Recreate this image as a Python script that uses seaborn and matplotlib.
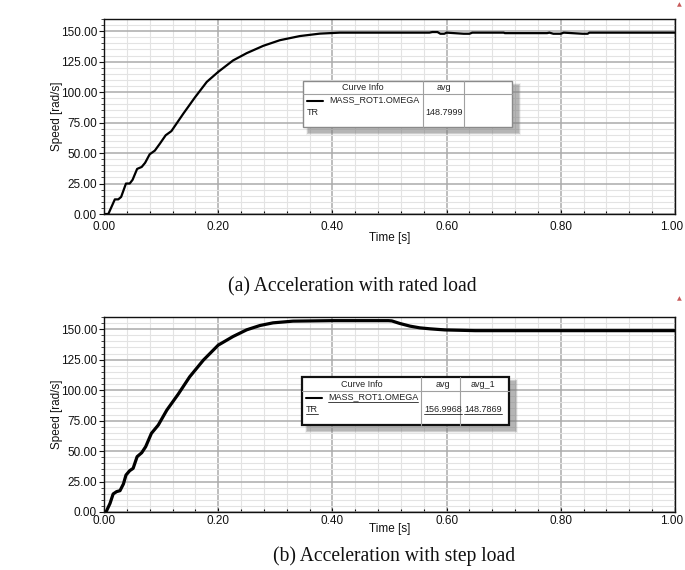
import matplotlib
matplotlib.use("Agg")
import matplotlib.pyplot as plt
import seaborn as sns
import pandas as pd
from matplotlib.patches import Rectangle
from matplotlib.ticker import MultipleLocator, FormatStrFormatter
from matplotlib.transforms import ScaledTranslation

# ---------------- data ----------------
time_a = [0.0, 0.0076, 0.019, 0.025, 0.030, 0.0385, 0.045, 0.050, 0.058, 0.066,
          0.072, 0.080, 0.089, 0.098, 0.108, 0.118, 0.139, 0.159, 0.180, 0.200,
          0.226, 0.250, 0.279, 0.308, 0.343, 0.378, 0.413, 0.570, 0.575, 0.584,
          0.589, 0.596, 0.600, 0.630, 0.640, 0.645, 0.700, 0.702, 0.776, 0.780,
          0.787, 0.800, 0.805, 0.838, 0.847, 0.850, 1.000]
speed_a = [0.0, 0.0, 12.0, 12.0, 14.0, 25.0, 25.0, 28.0, 37.0, 38.6,
           42.0, 49.0, 52.0, 57.8, 64.6, 68.0, 82.4, 95.5, 108.4, 116.6,
           126.0, 132.0, 138.0, 142.6, 146.0, 148.0, 148.8, 148.8, 149.3, 149.3,
           147.9, 147.9, 148.8, 147.9, 147.9, 148.8, 148.8, 148.4, 148.4, 148.8,
           147.9, 147.9, 148.8, 147.9, 147.9, 148.8, 148.8]

time_b = [0.0, 0.0035, 0.0105, 0.016, 0.022, 0.028, 0.034, 0.0385, 0.045, 0.051,
          0.058, 0.066, 0.073, 0.083, 0.095, 0.110, 0.130, 0.150, 0.174, 0.200,
          0.226, 0.250, 0.273, 0.296, 0.331, 0.400, 0.498, 0.504, 0.518, 0.536,
          0.553, 0.571, 0.597, 0.650, 1.000]
speed_b = [0.0, 0.0, 7.0, 14.8, 16.7, 17.5, 23.0, 30.3, 33.9, 35.8,
           45.4, 48.6, 53.6, 64.5, 71.3, 83.6, 96.7, 110.9, 124.6, 136.9,
           144.0, 149.5, 153.0, 155.2, 156.6, 157.0, 157.0, 156.8, 154.7, 152.5,
           151.1, 150.3, 149.4, 148.8, 148.8]

x_label = "Time [s]"
y_label = "Speed [rad/s]"
caption_a = "(a) Acceleration with rated load"
caption_b = "(b) Acceleration with step load"
legend_header = "Curve Info"
legend_curve = "MASS_ROT1.OMEGA"
legend_unit = "TR"
avg_headers_a = ["avg", ""]
avg_values_a = ["148.7999", ""]
avg_headers_b = ["avg", "avg_1"]
avg_values_b = ["156.9968", "148.7869"]

# ---------------- style ----------------
sns.set_style("white")
plt.rcParams['font.family'] = ['Liberation Sans', 'DejaVu Sans']

W, H = 685, 570
fig = plt.figure(figsize=(W / 100, H / 100), dpi=100)


def px_axes(left, top, right, bottom, **kw):
    return fig.add_axes([left / W, 1 - bottom / H, (right - left) / W, (bottom - top) / H], **kw)


def style_axes(ax, xlab_y, xpad):
    ax.set_xlim(0, 1)
    ax.set_ylim(0, 160)
    ax.xaxis.set_major_locator(MultipleLocator(0.2))
    ax.xaxis.set_minor_locator(MultipleLocator(0.04))
    ax.yaxis.set_major_locator(MultipleLocator(25))
    ax.yaxis.set_minor_locator(MultipleLocator(5))
    ax.xaxis.set_major_formatter(FormatStrFormatter("%.2f"))
    ax.yaxis.set_major_formatter(FormatStrFormatter("%.2f"))
    ax.set_axisbelow(True)
    ax.grid(which='major', color='#ababab', lw=1.1)
    ax.grid(which='minor', color='#e3e3e3', lw=0.8)
    for s in ax.spines.values():
        s.set_visible(True)
        s.set_color('#111111')
        s.set_linewidth(1.0)
    ax.tick_params(axis='x', which='both', direction='in', length=3, width=0.8,
                   labelsize=8.5, colors='#111111', pad=xpad, bottom=True)
    ax.tick_params(axis='x', which='minor', length=2.5)
    ax.tick_params(axis='y', which='major', direction='out', length=3.5, width=0.8,
                   labelsize=8.5, colors='#111111', pad=1.5, left=True)
    ax.tick_params(axis='y', which='minor', direction='out', length=2, width=0.6, left=True)
    ax.set_xlabel(x_label, fontsize=8.5, color='#111111')
    ax.set_ylabel(y_label, fontsize=8.5, color='#111111')
    ax.xaxis.set_label_coords(0.5, xlab_y)
    ax.yaxis.set_label_coords(-0.072, 0.5)


ax_a = px_axes(104, 19, 675, 214)
ax_b = px_axes(104, 317, 675, 512)

df_a = pd.DataFrame({"t": time_a, "v": speed_a})
df_b = pd.DataFrame({"t": time_b, "v": speed_b})
sns.lineplot(data=df_a, x="t", y="v", ax=ax_a, color='black', lw=1.6,
             estimator=None, sort=False)
sns.lineplot(data=df_b, x="t", y="v", ax=ax_b, color='black', lw=2.3,
             estimator=None, sort=False)
style_axes(ax_a, -0.092, 5)
style_axes(ax_b, -0.056, 2.5)

# ---------------- overlay (legend tables, captions) ----------------
ov = fig.add_axes([0, 0, 1, 1], zorder=10)
ov.set_xlim(0, W)
ov.set_ylim(H, 0)
ov.axis('off')
ov.patch.set_alpha(0)

fig.canvas.draw()
renderer = fig.canvas.get_renderer()

# keep the right-most tick label inside the canvas
for ax in (ax_a, ax_b):
    labs = ax.get_xticklabels()
    for lab in labs:
        if lab.get_text() == "1.00":
            lab.set_transform(lab.get_transform() +
                              ScaledTranslation(-2.5 / 72, 0, fig.dpi_scale_trans))


def underline(txt, y):
    bb = txt.get_window_extent(renderer=renderer)
    inv = ov.transData.inverted()
    (xa, _), (xb, _) = inv.transform([(bb.x0, bb.y0), (bb.x1, bb.y0)])
    ov.plot([xa, xb], [y, y], color='#222222', lw=0.6)


def legend_table(x0, y0, x1, y1, c1, c2, hdr_y, hdr_centers, headers, values,
                 border_color, border_lw, ul):
    # blurred shadow
    for i, a in enumerate([0.10, 0.14, 0.20, 0.30]):
        d = 3 - i * 0.6
        ov.add_patch(Rectangle((x0 + 6 - d, y0 + 5 - d), (x1 - x0) + 2 * d, (y1 - y0) + 2 * d,
                               facecolor='#808080', edgecolor='none', alpha=a))
    ov.add_patch(Rectangle((x0, y0), x1 - x0, y1 - y0, facecolor='white',
                           edgecolor=border_color, lw=border_lw))
    for cx in (c1, c2):
        ov.plot([cx, cx], [y0, y1], color='#a0a0a0', lw=0.8)
    ov.plot([x0, x1], [hdr_y, hdr_y], color='#a0a0a0', lw=0.8)
    fs = 6.5
    ov.text(hdr_centers[0], (y0 + hdr_y) / 2 + 0.5, legend_header, fontsize=fs,
            ha='center', va='center', color='#222222')
    for cx, h in zip(hdr_centers[1:], headers):
        ov.text(cx, (y0 + hdr_y) / 2 + 0.5, h, fontsize=fs, ha='center', va='center',
                color='#222222')
    ly = hdr_y + 7
    ov.plot([x0 + 4, x0 + 20], [ly, ly], color='black', lw=1.5)
    t1 = ov.text(x0 + 26, ly - 1, legend_curve, fontsize=fs, ha='left', va='center',
                 color='#222222')
    vy = hdr_y + 18.5
    t2 = ov.text(x0 + 4, vy, legend_unit, fontsize=fs, ha='left', va='center',
                 color='#222222')
    vts = []
    for cx, v in zip(hdr_centers[1:], values):
        if v:
            vts.append(ov.text(cx, vy, v, fontsize=fs, ha='center', va='center',
                               color='#222222'))
    if ul:
        underline(t1, ly + 3.5)
        underline(t2, vy + 4.5)
        for t in vts:
            underline(t, vy + 4.5)


legend_table(303, 81, 512, 127, 423, 464, 94, [363, 444, 488],
             avg_headers_a, avg_values_a, '#8a8a8a', 1.0, False)
legend_table(302, 377, 509, 425, 421, 460, 391, [361.7, 443, 482.7],
             avg_headers_b, avg_values_b, '#111111', 1.6, True)

ov.text(352.5, 287, caption_a, fontsize=14.1, family='Liberation Serif',
        ha='center', va='center', color='#111111')
ov.text(394, 556, caption_b, fontsize=14.1, family='Liberation Serif',
        ha='center', va='center', color='#111111')

for ty in (5, 299):
    ov.text(679, ty, "▲", fontsize=4.5, color='#c85a5a', ha='center', va='center',
            family='DejaVu Sans')

fig.savefig("out.png", dpi=100)
